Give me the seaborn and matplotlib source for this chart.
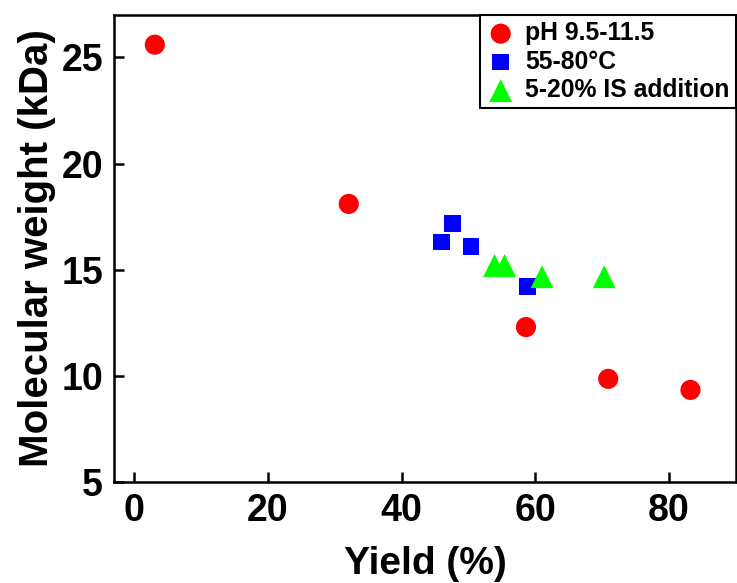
import matplotlib
matplotlib.use("Agg")
import matplotlib.pyplot as plt
import seaborn as sns
import pandas as pd

# Data
ph_yield = [3.1, 32.1, 58.6, 70.9, 83.2]
ph_mw = [25.6, 18.1, 12.3, 9.86, 9.34]
temp_yield = [46.0, 47.6, 50.4, 58.8]
temp_mw = [16.3, 17.17, 16.08, 14.2]
is_yield = [53.9, 55.4, 61.0, 70.3]
is_mw = [15.2, 15.2, 14.67, 14.67]
labels = ["pH 9.5-11.5", "55-80°C", "5-20% IS addition"]
x_ticks = [0, 20, 40, 60, 80]
y_ticks = [5, 10, 15, 20, 25]

sns.set_theme(style="white")
plt.rcParams['font.family'] = ['Liberation Sans', 'DejaVu Sans']
plt.rcParams['font.weight'] = 'bold'
plt.rcParams['text.color'] = 'black'
plt.rcParams['axes.labelcolor'] = 'black'
plt.rcParams['xtick.color'] = 'black'
plt.rcParams['ytick.color'] = 'black'

fig = plt.figure(figsize=(7.37, 5.83), dpi=100)
ax = fig.add_axes([0.1547, 0.1732, 0.8439, 0.8011])

groups = [
    (ph_yield, ph_mw, labels[0], "o", "#ff0000", 210),
    (temp_yield, temp_mw, labels[1], "s", "#0000ff", 145),
    (is_yield, is_mw, labels[2], "^", "#00ff00", 270),
]
for xs, ys, lab, mk, col, s in groups:
    df = pd.DataFrame({"x": xs, "y": ys})
    sns.scatterplot(data=df, x="x", y="y", ax=ax, marker=mk, color=col,
                    s=s, edgecolor="none", linewidth=0, label=lab)

ax.set_xlim(-3, 90)
ax.set_ylim(5, 27)
ax.set_xticks(x_ticks)
ax.set_yticks(y_ticks)
ax.set_xlabel("Yield (%)", fontsize=28, fontweight='bold', labelpad=12, color='black')
ax.set_ylabel("Molecular weight (kDa)", fontsize=29, fontweight='bold', labelpad=4, color='black')
ax.tick_params(axis='both', which='major', direction='in', length=7, width=1.8,
               labelsize=27, left=True, bottom=True, top=False, right=False, pad=8,
               colors='black')
for lbl in ax.get_xticklabels() + ax.get_yticklabels():
    lbl.set_fontweight('bold')
for sp in ax.spines.values():
    sp.set_color("black")
    sp.set_linewidth(1.8)

leg = ax.legend(loc="upper right", borderaxespad=0, fancybox=False, framealpha=1,
                edgecolor="black", prop={'size': 17.8, 'weight': 'bold'},
                handletextpad=0.4, labelspacing=0.18, borderpad=0.25, handlelength=1.2)
leg.get_frame().set_linewidth(1.5)
for t in leg.get_texts():
    t.set_color('black')

fig.savefig("out.png", dpi=100)
